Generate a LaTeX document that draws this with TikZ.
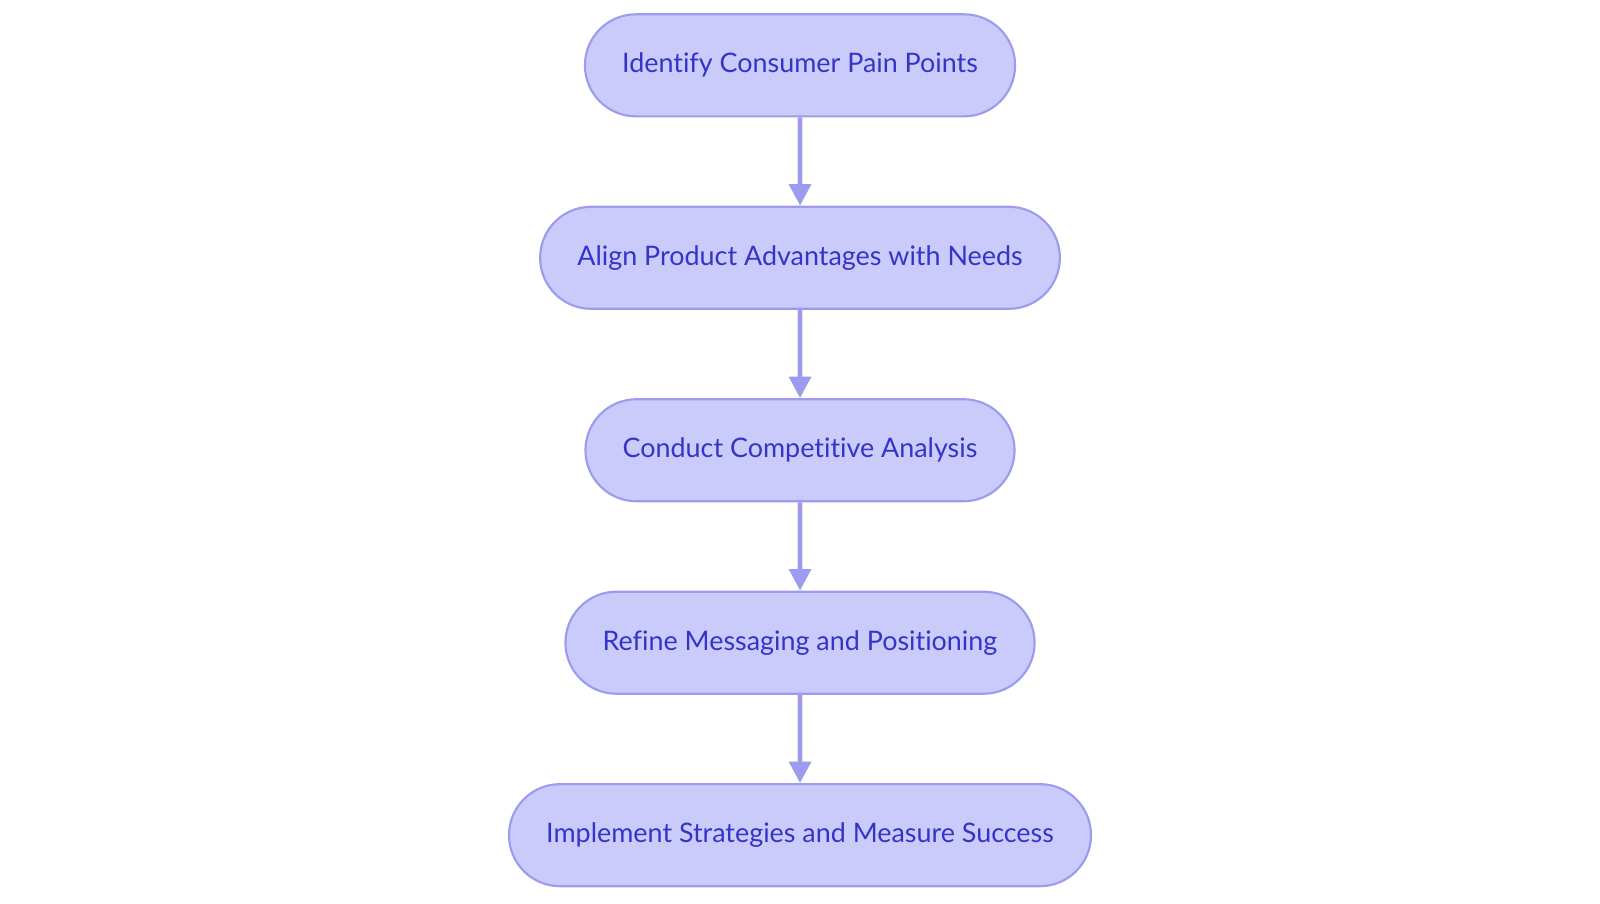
\documentclass[tikz,border=0pt]{standalone}
\usepackage{fontspec}
\setmainfont{Lato}[Ligatures=NoCommon]
\usetikzlibrary{shapes.misc,arrows.meta,positioning}
\definecolor{stepfill}{HTML}{CBCBFB}
\definecolor{stepline}{HTML}{9C9CEE}
\definecolor{steptext}{HTML}{3434C8}
\tikzset{arrow/.style={draw=stepline, line width=1.3pt, -{Triangle[length=6pt,width=6pt]}}}

\begin{document}
\begin{tikzpicture}[node distance=0.865cm, every node/.style={draw=stepline, fill=stepfill, text=steptext, rounded rectangle, minimum height=1cm, inner xsep=0.35cm, font=\fontsize{7.5}{9}\selectfont, line width=0.6pt}]
    \useasboundingbox (0,0) rectangle (15.68,-8.85);

        % Define nodes
        \node (S1) at (7.84,-0.64) {Identify Consumer Pain Points};
        \node (S2) [below=of S1] {Align Product Advantages with Needs};
        \node (S3) [below=of S2] {Conduct Competitive Analysis};
        \node (S4) [below=of S3] {Refine Messaging and Positioning};
        \node (S5) [below=of S4] {Implement Strategies and Measure Success};

        % Draw downward arrows
        \foreach \X/\Y in {S1/S2, S2/S3, S3/S4, S4/S5} {
            \draw[arrow] (\X) -- (\Y);
        }

\end{tikzpicture}
\end{document}
